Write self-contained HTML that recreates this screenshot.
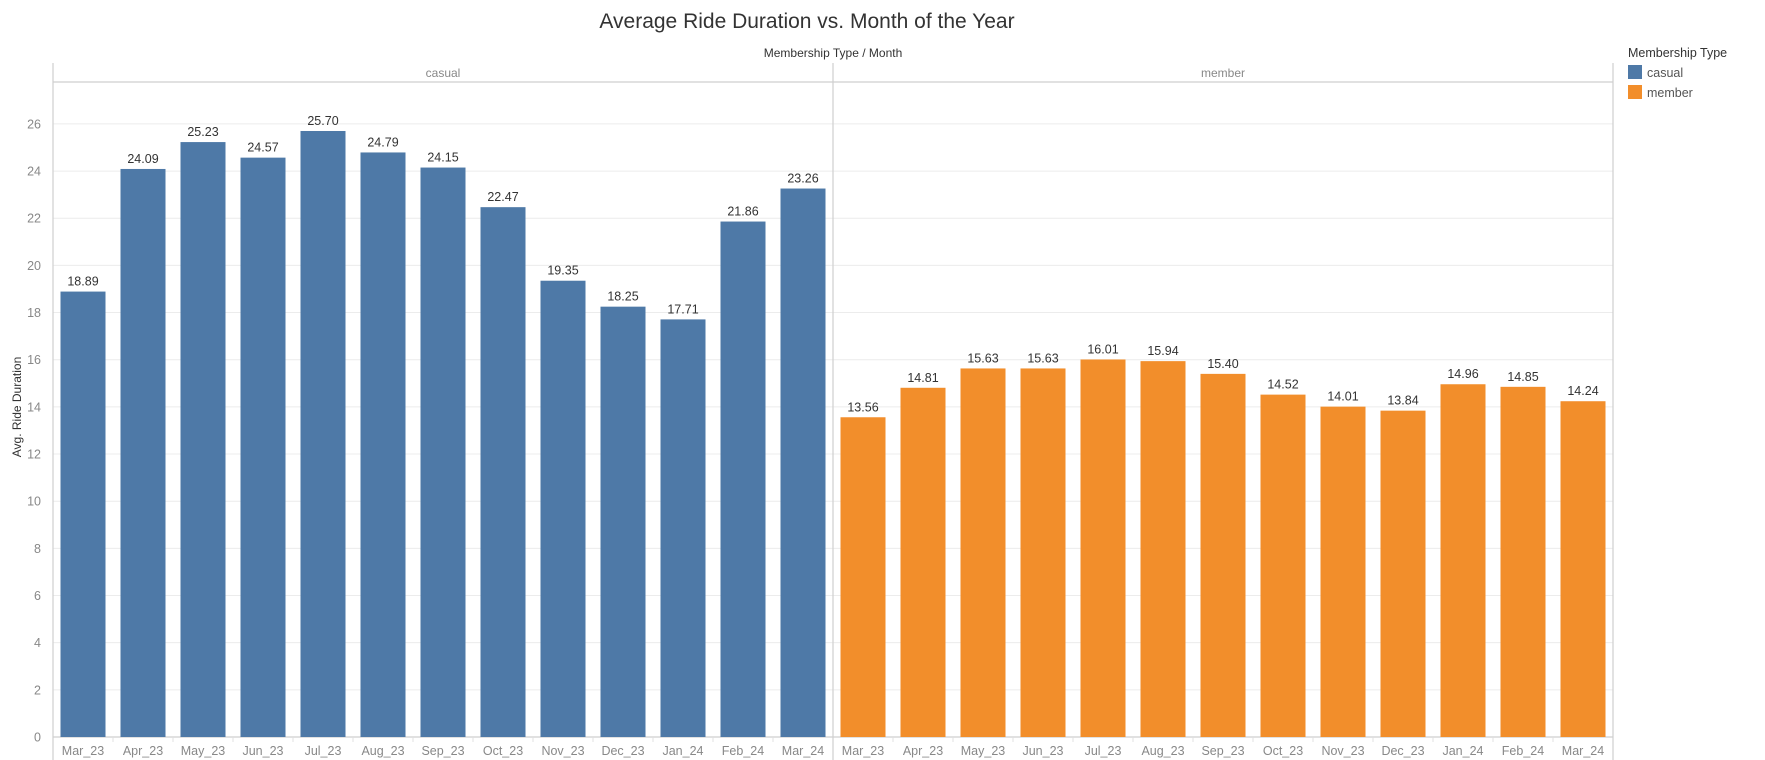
<!DOCTYPE html>
<html><head><meta charset="utf-8"><style>
body{margin:0;background:#fff;font-family:"Liberation Sans",sans-serif;}
svg{display:block}
</style></head><body>
<svg id="chart" width="1765" height="760" xmlns="http://www.w3.org/2000/svg">
<text x="807" y="28" text-anchor="middle" font-size="21" fill="#333">Average Ride Duration vs. Month of the Year</text>
<text x="833" y="57" text-anchor="middle" font-size="12" fill="#333">Membership Type  /  Month</text>
<g id="legend">
<text x="1628" y="57" font-size="12.5" fill="#333">Membership Type</text>
<rect x="1628" y="65" width="14" height="14" fill="#4e79a7"/>
<text x="1647" y="77" font-size="12.5" fill="#555">casual</text>
<rect x="1628" y="85" width="14" height="14" fill="#f28e2b"/>
<text x="1647" y="97" font-size="12.5" fill="#555">member</text>
</g>
<g id="plot"></g>
</svg>
<script>
const months = ["Mar_23","Apr_23","May_23","Jun_23","Jul_23","Aug_23","Sep_23","Oct_23","Nov_23","Dec_23","Jan_24","Feb_24","Mar_24"];
const panels = ["casual","member"];
const casualValues = [18.89,24.09,25.23,24.57,25.70,24.79,24.15,22.47,19.35,18.25,17.71,21.86,23.26];
const memberValues = [13.56,14.81,15.63,15.63,16.01,15.94,15.40,14.52,14.01,13.84,14.96,14.85,14.24];
const yTicks = [0,2,4,6,8,10,12,14,16,18,20,22,24,26];

const NS="http://www.w3.org/2000/svg";
const plotG=document.getElementById('plot');
const plotLeft=53, plotRight=1613, plotTop=63, headerY=82, baseY=737, pxPerUnit=23.58;
const panelW=(plotRight-plotLeft)/panels.length;
const yScale=v=>baseY-v*pxPerUnit;
const colors={casual:"#4e79a7",member:"#f28e2b"};
const series={casual:casualValues,member:memberValues};
function mk(tag,attrs,txt){const e=document.createElementNS(NS,tag);for(const k in attrs)e.setAttribute(k,attrs[k]);if(txt!=null)e.textContent=txt;plotG.appendChild(e);return e;}

yTicks.forEach(t=>{
  const l=mk('line',{x1:plotLeft,x2:plotRight,y1:yScale(t),y2:yScale(t),stroke:"#ececec","stroke-width":1});
  
  
  const tx=mk('text',{x:plotLeft-12,y:yScale(t)+4.5,"text-anchor":"end","font-size":12.5,fill:"#888"},t);
  
  
});
const at=mk('text',{x:21,y:407,"text-anchor":"middle","font-size":12,fill:"#333",transform:"rotate(-90 21 407)"},"Avg. Ride Duration");



[[plotLeft,plotTop,plotLeft,760],[plotRight,plotTop,plotRight,760],[plotLeft,headerY,plotRight,headerY],[plotLeft,baseY,plotRight,baseY]].forEach(c=>{
  const l=mk('line',{x1:c[0],y1:c[1],x2:c[2],y2:c[3],stroke:"#cfcfcf","stroke-width":1.2});
  
  
});

panels.forEach((p,pi)=>{
  const px=plotLeft+pi*panelW;
  if(pi>0){const d=mk('line',{x1:px,y1:plotTop,x2:px,y2:760,stroke:"#cfcfcf","stroke-width":1.2});
    
    }
  const h=mk('text',{x:px+panelW/2,y:77,"text-anchor":"middle","font-size":12,fill:"#888"},p);
  
  
  const pitch=panelW/months.length, bw=45;
  months.forEach((m,i)=>{
    const cx=px+pitch*(i+0.5), v=series[p][i];
    const r=mk('rect',{x:cx-bw/2,y:yScale(v),width:bw,height:baseY-yScale(v),fill:colors[p]});
    
    
    const lb=mk('text',{x:cx,y:yScale(v)-6,"text-anchor":"middle","font-size":12.5,fill:"#333"},v.toFixed(2));
    
    
    const xl=mk('text',{x:cx,y:755,"text-anchor":"middle","font-size":12.5,fill:"#888"},m);
    
    
    if(i>0){const tk=mk('line',{x1:px+pitch*i,x2:px+pitch*i,y1:baseY,y2:baseY+5,stroke:"#e0e0e0"});
      
      }
  });
});
</script>
</body></html>
